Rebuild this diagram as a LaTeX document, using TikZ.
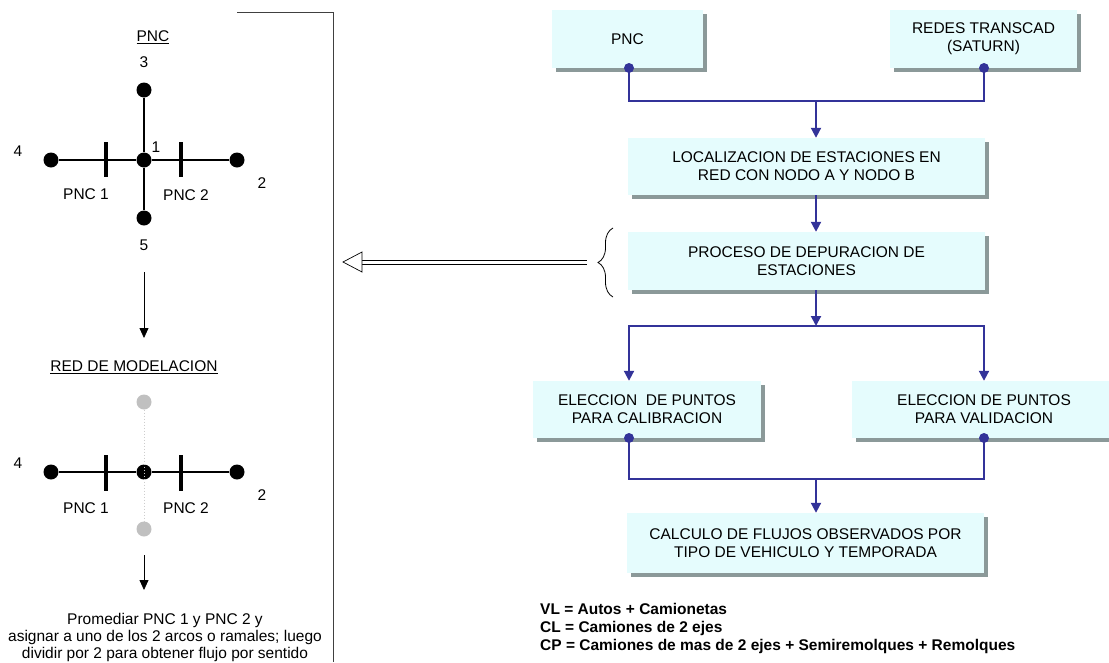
\documentclass[tikz,border=0pt]{standalone}
\usepackage{fontspec}
\setmainfont{Liberation Sans}
\usetikzlibrary{arrows.meta,shadows,decorations.pathreplacing}
\definecolor{boxfill}{HTML}{E5FCFD}
\definecolor{shadowcol}{HTML}{8B9999}
\definecolor{conncol}{HTML}{333399}
\definecolor{greydot}{HTML}{C0C0C0}
\definecolor{framecol}{HTML}{404040}
\tikzset{
  flowbox/.style={rectangle, fill=boxfill, inner sep=0pt, align=center,
    font=\fontsize{15.5}{18}\selectfont,
    drop shadow={shadow xshift=3.5pt, shadow yshift=-3.5pt, fill=shadowcol, opacity=1}},
  conn/.style={draw=conncol, line width=2pt},
  flowarr/.style={conn, -{Triangle[length=10pt,width=10pt]}},
  conndot/.style={circle, fill=conncol, inner sep=0pt, minimum size=10pt},
  netdot/.style={circle, fill=black, inner sep=0pt, minimum size=15pt},
  greynode/.style={circle, fill=greydot, inner sep=0pt, minimum size=15pt},
  netline/.style={draw=black, line width=1.6pt},
  tick/.style={draw=black, line width=3.5pt},
  lbl/.style={inner sep=0pt, font=\fontsize{15.5}{17}\selectfont},
  blackarr/.style={draw=black, line width=0.8pt, -{Triangle[length=10pt,width=9pt]}},
}
\begin{document}
\begin{tikzpicture}[x=1pt,y=-1pt]
\useasboundingbox (0,0) rectangle (1109,662);

% ---------------- left panel ----------------
\draw[framecol, line width=1pt] (237,12) -- (333,12) -- (333,662);

\node[lbl] (tpnc) at (153,37) {\underline{PNC}};
\node[netdot] (n1) at (144,160) {};
\node[netdot] (n2) at (237,160) {};
\node[netdot] (n3) at (144,90) {};
\node[netdot] (n4) at (51,160) {};
\node[netdot] (n5) at (144,218) {};
\draw[netline] (n4) -- (n1) -- (n2);
\draw[netline] (n3) -- (n1) -- (n5);
\draw[tick] (106,142) -- (106,177);
\draw[tick] (181,142) -- (181,177);
\node[lbl] (l3) at (144,62) {3};
\node[lbl] (l1) at (156,147) {1};
\node[lbl] (l4) at (18,151) {4};
\node[lbl] (l2) at (262,183) {2};
\node[lbl] (lp1) at (86,194) {PNC 1};
\node[lbl] (lp2) at (186,195) {PNC 2};
\node[lbl] (l5) at (144,245) {5};

\coordinate (a1s) at (144,272);
\coordinate (a1e) at (144,338);
\draw[blackarr] (a1s) -- (a1e);

\node[lbl] (tred) at (134,367) {\underline{RED DE MODELACION}};
\node[greynode] (g3) at (144,402) {};
\node[greynode] (g5) at (144,529) {};
\node[netdot] (m1) at (144,472) {};
\node[netdot] (m2) at (237,472) {};
\node[netdot] (m4) at (51,472) {};
\draw[netline] (m4) -- (m1) -- (m2);
\draw[tick] (106,455) -- (106,491);
\draw[tick] (181,455) -- (181,491);
\draw[greydot!80!white, line width=1pt, dotted] (g3) -- (g5);
\node[lbl] (k4) at (18,463) {4};
\node[lbl] (k2) at (262,495) {2};
\node[lbl] (kp1) at (86,508) {PNC 1};
\node[lbl] (kp2) at (186,508) {PNC 2};

\coordinate (a2s) at (144,555);
\coordinate (a2e) at (144,590);
\draw[blackarr] (a2s) -- (a2e);

\node[lbl, align=center] (note) at (165,637) {Promediar PNC 1 y PNC 2 y\\asignar a uno de los 2 arcos o ramales; luego\\dividir por 2 para obtener flujo por sentido};

% ---------------- double arrow and brace ----------------
\coordinate (datip) at (343,262);
\coordinate (daback) at (362,262);
\coordinate (datail) at (587,262);
\draw[black, line width=0.7pt] ([yshift=-2pt]daback) -- ([yshift=-2pt]datail);
\draw[black, line width=0.7pt] ([yshift=2pt]daback) -- ([yshift=2pt]datail);
\draw[black, line width=0.7pt, fill=white] (datip) -- ([yshift=-10pt]daback) -- ([yshift=10pt]daback) -- cycle;
\coordinate (brb) at (613,297);
\coordinate (brt) at (613,228);
\draw[black, line width=0.8pt, decorate, decoration={brace, amplitude=15pt}] (brb) -- (brt);

% ---------------- flowchart ----------------
\node[flowbox, minimum width=151pt, minimum height=58pt] (pnc) at (627.5,39) {PNC};
\node[flowbox, minimum width=187pt, minimum height=58pt] (redes) at (983.5,39) {REDES TRANSCAD\\(SATURN)};
\node[flowbox, minimum width=357pt, minimum height=57pt] (loc) at (806.5,166.5) {LOCALIZACION DE ESTACIONES EN\\RED CON NODO A Y NODO B};
\node[flowbox, minimum width=357pt, minimum height=58pt] (proc) at (806.5,261) {PROCESO DE DEPURACION DE\\ESTACIONES};
\node[flowbox, minimum width=228pt, minimum height=57pt] (cal) at (647,409.5) {ELECCION\ \ DE PUNTOS\\PARA CALIBRACION};
\node[flowbox, minimum width=264pt, minimum height=57pt] (val) at (984,409.5) {ELECCION DE PUNTOS\\PARA VALIDACION};
\node[flowbox, minimum width=357pt, minimum height=60pt] (calc) at (805.5,543) {CALCULO DE FLUJOS OBSERVADOS POR\\TIPO DE VEHICULO Y TEMPORADA};

\coordinate (j1) at (816,101);
\coordinate (j2) at (816,326);
\coordinate (j3) at (816,479);
\coordinate (pncdot) at (629,68);
\coordinate (redesdot) at (984,68);
\coordinate (caldot) at (629,438);
\coordinate (valdot) at (984,438);

\draw[conn] (pncdot) |- (j1) -| (redesdot);
\draw[flowarr] (j1) -- (loc.north -| j1);
\draw[flowarr] (loc.south -| j1) -- (proc.north -| j1);
\draw[flowarr] (proc.south -| j1) -- (j2);
\draw[flowarr] (j2) -| (cal.north -| caldot);
\draw[flowarr] (j2) -| (val.north -| valdot);
\draw[conn] (caldot) |- (j3) -| (valdot);
\draw[flowarr] (j3) -- (calc.north -| j3);

\node[conndot] (dp) at (pncdot) {};
\node[conndot] (dr) at (redesdot) {};
\node[conndot] (dc) at (caldot) {};
\node[conndot] (dv) at (valdot) {};

\node[anchor=west, align=left, inner sep=0pt, font=\bfseries\fontsize{15.5}{18}\selectfont] (legend) at (540,628)
  {VL = Autos + Camionetas\\CL = Camiones de 2 ejes\\CP = Camiones de mas de 2 ejes + Semiremolques + Remolques};
\end{tikzpicture}
\end{document}
